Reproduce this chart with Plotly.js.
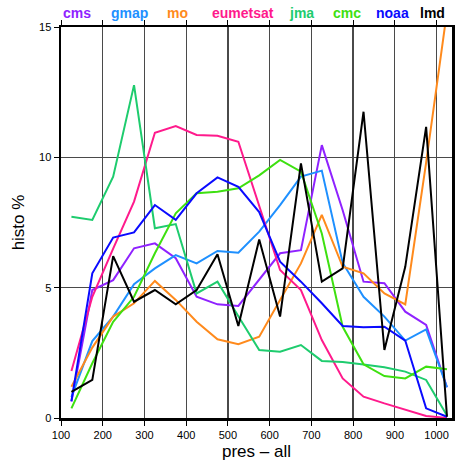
<!DOCTYPE html>
<html>
<head>
<meta charset="utf-8">
<script src="https://cdn.plot.ly/plotly-3.0.1.min.js"></script>
<style>html,body{margin:0;padding:0;background:#fff;}#chart{width:455px;height:467px;}</style>
</head>
<body>
<div id="chart"></div>
<script>
const pres = [125,175,225,275,325,375,425,475,525,575,625,675,725,775,825,875,925,975,1025];
const seriesNames = ["cms","gmap","mo","eumetsat","jma","cmc","noaa","lmd"];
const cms      = [0.63,4.91,5.29,6.51,6.70,6.13,4.65,4.36,4.30,5.32,6.32,6.44,10.47,7.97,5.23,5.17,4.08,3.57,1.18];
const gmap     = [0.80,2.95,3.89,5.13,5.74,6.25,5.93,6.41,6.34,7.15,8.17,9.26,9.49,5.95,4.65,3.89,2.97,3.40,1.18];
const mo       = [1.20,2.70,3.89,4.40,5.26,4.53,3.69,3.02,2.83,3.12,4.53,5.93,7.79,5.80,5.55,4.78,4.36,9.80,15.60];
const eumetsat = [1.80,4.65,6.50,8.30,10.94,11.20,10.86,10.83,10.60,8.10,5.68,4.91,2.99,1.52,0.82,0.56,0.33,0.08,0.00];
const jma      = [7.72,7.60,9.26,12.77,7.28,7.44,4.78,5.23,3.90,2.61,2.54,2.80,2.19,2.15,2.05,1.95,1.78,1.46,0.10];
const cmc      = [0.37,2.10,3.69,4.65,6.32,7.85,8.62,8.68,8.81,9.31,9.90,9.45,7.08,3.50,2.06,1.61,1.52,1.97,1.87];
const noaa     = [0.65,5.55,6.92,7.12,8.17,7.60,8.62,9.23,8.87,7.90,6.00,5.23,4.40,3.53,3.48,3.50,2.97,0.37,0.05];
const lmd      = [1.00,1.46,6.21,4.46,4.91,4.36,4.91,6.28,3.53,6.85,3.89,9.77,5.23,5.74,11.75,2.61,5.80,11.17,0.05];
const xTicks = [100,200,300,400,500,600,700,800,900,1000];
const yTicks = [0,5,10,15];

const values = [cms,gmap,mo,eumetsat,jma,cmc,noaa,lmd];
const colors = ["#8f22ff","#1e90ff","#ff8a1c","#ff1a8c","#1ecc6e","#3ee010","#0a0aff","#000000"];
const labelX = [0.041,0.176,0.297,0.465,0.614,0.731,0.847,0.949];

const traces = seriesNames.map((n,i)=>({
  x: pres, y: values[i], type:'scatter', mode:'lines', name:n,
  line:{color:colors[i], width:2}
}));

const annotations = seriesNames.map((n,i)=>({
  text:'<b>'+n+'</b>', xref:'paper', yref:'paper', x:labelX[i], y:1.036,
  xanchor:'center', yanchor:'middle', showarrow:false,
  font:{family:'Liberation Sans, Arial, sans-serif', size:14, color:colors[i]}
}));

const axisCommon = {
  ticks:'outside', ticklen:5, tickwidth:1, tickcolor:'#000',
  showline:true, linewidth:2.5, linecolor:'#000', mirror:'allticks',
  showgrid:true, gridcolor:'#4a4a4a', gridwidth:1.3, zeroline:false,
  tickfont:{family:'Liberation Sans, Arial, sans-serif', size:11, color:'#000'}
};

const layout = {
  width:455, height:467,
  margin:{l:61, r:3, t:27, b:49},
  paper_bgcolor:'#fff', plot_bgcolor:'#fff',
  showlegend:false,
  font:{family:'Liberation Sans, Arial, sans-serif', color:'#000'},
  xaxis: Object.assign({}, axisCommon, {
    range:[100,1037], tickvals:xTicks, ticktext:xTicks.map(String),
    title:{text:'pres – all', font:{size:17, color:'#000'}, standoff:6}
  }),
  yaxis: Object.assign({}, axisCommon, {
    range:[0,15], tickvals:yTicks, ticktext:yTicks.map(String),
    title:{text:'histo %', font:{size:17, color:'#000'}, standoff:10}
  }),
  annotations: annotations
};

Plotly.newPlot('chart', traces, layout, {displayModeBar:false, staticPlot:true});
</script>
</body>
</html>
